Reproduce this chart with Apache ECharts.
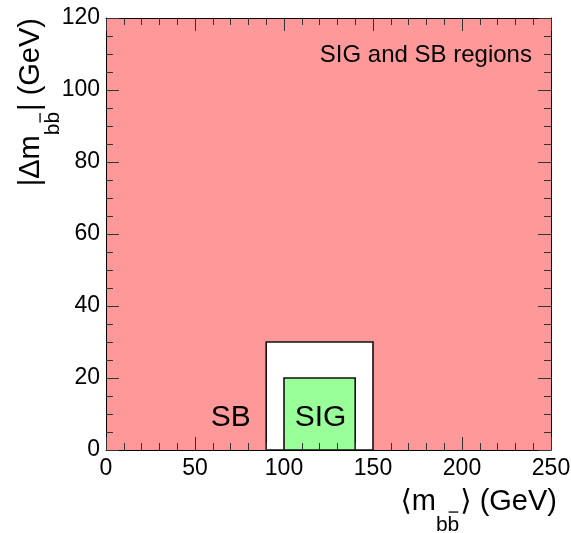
<!DOCTYPE html>
<html>
<head>
<meta charset="utf-8">
<script src="https://cdn.jsdelivr.net/npm/echarts@6/dist/echarts.min.js"></script>
<style>
  html, body { margin: 0; padding: 0; background: #fff; }
  #chart { width: 571px; height: 533px; }
</style>
</head>
<body>
<div id="chart"></div>
<script>
// regions: whole plane, sideband (SB) box, signal (SIG) box
var regionNames = ['all', 'SB', 'SIG'];
var regionXLo = [0, 90, 100];
var regionXHi = [250, 150, 140];
var regionYLo = [0, 0, 0];
var regionYHi = [120, 30, 20];

// text labels placed in data coordinates
var labelTexts = ['SB', 'SIG', 'SIG and SB regions'];
var labelX = [81.3, 120.5, 239.3];
var labelY = [9, 9, 109.6];

// axis ranges / ticks
var xTicks = [0, 50, 100, 150, 200, 250];
var yTicks = [0, 20, 40, 60, 80, 100, 120];

var FONT = '"Liberation Sans", "DejaVu Sans", Arial, sans-serif';
var fills = ['#ff9999', '#ffffff', '#99ff99'];
var strokes = [null, '#111', '#111'];
var labelAlign = ['right', 'center', 'right'];
var labelSize = [30, 30, 24];

var ctx = document.createElement('canvas').getContext('2d');
function textW(t, size) {
    ctx.font = size + 'px ' + FONT;
    return ctx.measureText(t).width;
}

// axis title made of pieces: main text, subscript "bb" with bar on the 2nd b, main text
function titlePieces(before, after, main, sub, subDy) {
    var els = [];
    var x = 0;
    function put(t, size, dy) {
        els.push({
            type: 'text', x: x, y: dy - 0.33 * size,
            style: { text: t, font: size + 'px ' + FONT, fill: '#000',
                     textAlign: 'left', textVerticalAlign: 'middle' }
        });
        x += textW(t, size);
    }
    put(before, main, 0);
    var bw = textW('b', sub);
    put('bb', sub, subDy);
    els.push({
        type: 'line',
        shape: { x1: x - bw + 1, y1: subDy - 0.95 * sub, x2: x - 1, y2: subDy - 0.95 * sub },
        style: { stroke: '#000', lineWidth: 1.3 }
    });
    x += 1;
    put(after, main, 0);
    return { els: els, width: x };
}

var xt = titlePieces('\u27e8m', '\u27e9 (GeV)', 29, 21, 20);
var yt = titlePieces('|\u0394m', '| (GeV)', 29, 21, 19);

var chart = echarts.init(document.getElementById('chart'));

function axisCommon(pos, showLabel, isX) {
    return {
        type: 'value',
        position: pos,
        min: 0,
        max: isX ? 250 : 120,
        interval: isX ? 50 : 20,
        z: 10,
        axisLine: { show: true, onZero: false, lineStyle: { color: '#000', width: 1 } },
        axisTick: { show: true, inside: true, length: 13, lineStyle: { color: '#333', width: 1 } },
        minorTick: { show: true, splitNumber: isX ? 5 : 4, length: 7, lineStyle: { color: '#333', width: 1 } },
        splitLine: { show: false },
        minorSplitLine: { show: false },
        axisLabel: {
            show: showLabel,
            margin: isX ? 7 : 6,
            color: '#000',
            fontSize: 23,
            fontFamily: FONT
        }
    };
}

var option = {
    animation: false,
    backgroundColor: '#fff',
    grid: { left: 106, top: 18, right: 20, bottom: 83, containLabel: false, outerBoundsMode: 'none' },
    xAxis: [axisCommon('bottom', true, true), axisCommon('top', false, true)],
    yAxis: [axisCommon('left', true, false), axisCommon('right', false, false)],
    series: [
        {
            type: 'custom',
            z: 1,
            clip: true,
            encode: { x: [0, 1], y: [2, 3] },
            data: regionNames.map(function (n, i) {
                return [regionXLo[i], regionXHi[i], regionYLo[i], regionYHi[i]];
            }),
            renderItem: function (params, api) {
                var i = params.dataIndex;
                var p0 = api.coord([api.value(0), api.value(3)]);
                var p1 = api.coord([api.value(1), api.value(2)]);
                return {
                    type: 'rect',
                    shape: { x: p0[0], y: p0[1], width: p1[0] - p0[0], height: p1[1] - p0[1] },
                    style: { fill: fills[i], stroke: strokes[i], lineWidth: strokes[i] ? 1.6 : 0 }
                };
            }
        },
        {
            type: 'custom',
            z: 3,
            encode: { x: 0, y: 1 },
            data: labelTexts.map(function (t, i) { return [labelX[i], labelY[i]]; }),
            renderItem: function (params, api) {
                var i = params.dataIndex;
                var p = api.coord([api.value(0), api.value(1)]);
                return {
                    type: 'text',
                    x: p[0], y: p[1],
                    style: {
                        text: labelTexts[i], fill: '#000',
                        font: labelSize[i] + 'px ' + FONT,
                        textAlign: labelAlign[i], textVerticalAlign: 'middle'
                    }
                };
            }
        }
    ],
    graphic: [
        { type: 'group', x: 557 - xt.width, y: 512, children: xt.els },
        { type: 'group', x: 41, y: 18 + yt.width, rotation: Math.PI / 2, children: yt.els }
    ]
};
chart.setOption(option);
</script>
</body>
</html>
